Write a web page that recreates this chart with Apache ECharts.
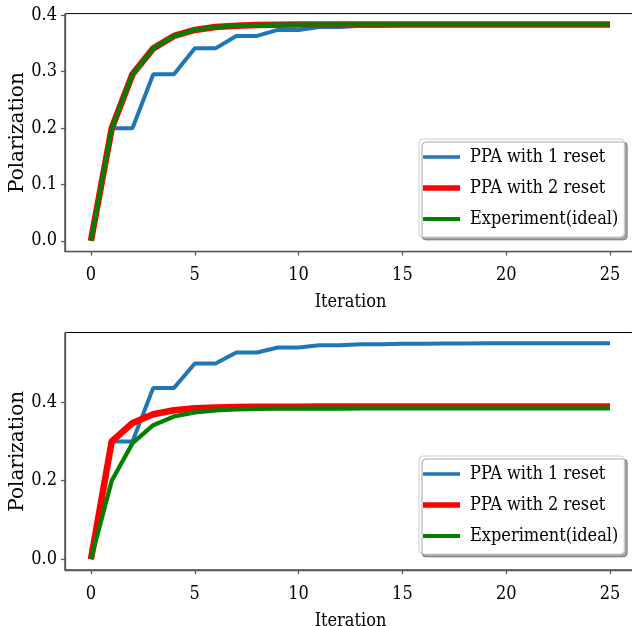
<!DOCTYPE html>
<html>
<head>
<meta charset="utf-8">
<script src="https://cdn.jsdelivr.net/npm/echarts@6/dist/echarts.min.js"></script>
<style>html,body{margin:0;padding:0;background:#fff}#c{width:632px;height:626px}</style>
</head>
<body>
<div id="c"></div>
<script>
const iterations = [0,1,2,3,4,5,6,7,8,9,10,11,12,13,14,15,16,17,18,19,20,21,22,23,24,25];
const seriesNames = ['PPA with 1 reset', 'PPA with 2 reset', 'Experiment(ideal)'];
const xTicks = [0,5,10,15,20,25];
const yTicksTop = [0.0,0.1,0.2,0.3,0.4];
const yTicksBottom = [0.0,0.2,0.4];

const topBlue = [0,0.1997,0.1997,0.2955,0.2955,0.3415,0.3415,0.3636,0.3636,0.3742,0.3742,0.3793,0.3793,0.3817,0.3817,0.3829,0.3829,0.3835,0.3835,0.3838,0.3838,0.3839,0.3839,0.384,0.384,0.384];
const topRed = [0,0.1997,0.2955,0.3415,0.3636,0.3742,0.3793,0.3817,0.3829,0.3835,0.3838,0.3839,0.3839,0.384,0.384,0.384,0.384,0.384,0.384,0.384,0.384,0.384,0.384,0.384,0.384,0.384];
const topGreen = [0,0.1997,0.2955,0.3415,0.3636,0.3742,0.3793,0.3817,0.3829,0.3835,0.3838,0.3839,0.3839,0.384,0.384,0.384,0.384,0.384,0.384,0.384,0.384,0.384,0.384,0.384,0.384,0.384];

const botBlue = [0,0.3,0.3,0.4364,0.4364,0.4984,0.4984,0.5265,0.5265,0.5393,0.5393,0.5452,0.5452,0.5478,0.5478,0.549,0.549,0.5496,0.5496,0.5498,0.5498,0.5499,0.5499,0.55,0.55,0.55];
const botRed = [0,0.3,0.347,0.3691,0.3795,0.3844,0.3867,0.3877,0.3883,0.3885,0.3886,0.3887,0.3887,0.3887,0.3887,0.3887,0.3887,0.3887,0.3887,0.3887,0.3887,0.3887,0.3887,0.3887,0.3887,0.3887];
const botGreen = [0,0.1997,0.2955,0.3415,0.3636,0.3742,0.3793,0.3817,0.3829,0.3835,0.3838,0.3839,0.3839,0.384,0.384,0.384,0.384,0.384,0.384,0.384,0.384,0.384,0.384,0.384,0.384,0.384];

const colors = ['#1f77b4', '#ff0000', '#008000'];
const widths = [4, 6.5, 4.3];
// legend line icons: 37 x 8 box with a centred bar of the line's thickness
const legendIcons = [
  'path://M0,0L0,0ZM0,2.3H37V5.7H0ZM37,8L37,8Z',
  'path://M0,0L0,0ZM0,1.2H37V6.8H0ZM37,8L37,8Z',
  'path://M0,0L0,0ZM0,2H37V6H0ZM37,8L37,8Z'
];

const FONT = 'DejaVu Serif Condensed, DejaVu Serif, serif';
const FONT_Y = 'DejaVu Serif, serif';
const SPINE = '#555';

function pairs(arr){ return iterations.map((x,i)=>[x, arr[i]]); }

function xAxis(gi){
  return {
    type: 'value', gridIndex: gi, min: -1.25, max: 26.25,
    name: 'Iteration', nameLocation: 'middle', nameGap: 42, nameMoveOverlap: false,
    nameTextStyle: {fontFamily: FONT, fontSize: 18, color: '#000'},
    axisLine: {show: true, onZero: false, lineStyle: {color: SPINE, width: 1.3}},
    axisTick: {show: true, length: 4, lineStyle: {color: SPINE, width: 1.2}, customValues: xTicks},
    axisLabel: {fontFamily: FONT, fontSize: 18, color: '#000', margin: 15, customValues: xTicks},
    splitLine: {show: false}
  };
}
function yAxis(gi, min, max, ticks){
  return {
    type: 'value', gridIndex: gi, min: min, max: max,
    name: 'Polarization', nameLocation: 'middle', nameGap: 37, nameRotate: 90, nameMoveOverlap: false,
    nameTextStyle: {fontFamily: FONT_Y, fontSize: 20, color: '#000'},
    axisLine: {show: true, onZero: false, lineStyle: {color: SPINE, width: 1.3}},
    axisTick: {show: true, length: 4, lineStyle: {color: SPINE, width: 1.2}, customValues: ticks},
    axisLabel: {fontFamily: FONT, fontSize: 18, color: '#000', margin: 8, customValues: ticks,
      formatter: v => v.toFixed(1)},
    splitLine: {show: false}
  };
}
function legend(top){
  return {
    orient: 'vertical', left: 419, top: top,
    data: seriesNames.map((n,i)=>({name: n, icon: legendIcons[i], itemStyle: {color: colors[i]}})),
    itemWidth: 37, itemHeight: 8, itemGap: 11,
    padding: [8, 6, 8, 4],
    textStyle: {fontFamily: FONT, fontSize: 18, color: '#000', lineHeight: 20, padding: [0,0,0,5]},
    backgroundColor: '#fff', borderColor: '#ccc', borderWidth: 1, borderRadius: 4,
    shadowColor: 'rgba(0,0,0,0.35)', shadowBlur: 0, shadowOffsetX: 3, shadowOffsetY: 3,
    selectedMode: false
  };
}
function line(name, data, ci, gi){
  return {
    type: 'line', name: name, data: pairs(data), xAxisIndex: gi, yAxisIndex: gi,
    symbol: 'none', lineStyle: {color: colors[ci], width: widths[ci]},
    itemStyle: {color: colors[ci]}, z: 2 + ci, animation: false
  };
}

const chart = echarts.init(document.getElementById('c'), null, {renderer: 'canvas'});
chart.setOption({
  animation: false,
  grid: [
    {left: 65, top: 13.6, width: 571, height: 238, show: true, borderColor: '#000', borderWidth: 1,
     backgroundColor: 'transparent', containLabel: false, outerBoundsMode: 'none'},
    {left: 65, top: 332.5, width: 571, height: 237.5, show: true, borderColor: '#000', borderWidth: 1,
     backgroundColor: 'transparent', containLabel: false, outerBoundsMode: 'none'}
  ],
  xAxis: [xAxis(0), xAxis(1)],
  yAxis: [yAxis(0, -0.0192, 0.4032, yTicksTop), yAxis(1, -0.0275, 0.5775, yTicksBottom)],
  legend: [legend(139), legend(456)],
  series: [
    line(seriesNames[0], topBlue, 0, 0),
    line(seriesNames[1], topRed, 1, 0),
    line(seriesNames[2], topGreen, 2, 0),
    line(seriesNames[0], botBlue, 0, 1),
    line(seriesNames[1], botRed, 1, 1),
    line(seriesNames[2], botGreen, 2, 1)
  ]
});
</script>
</body>
</html>
